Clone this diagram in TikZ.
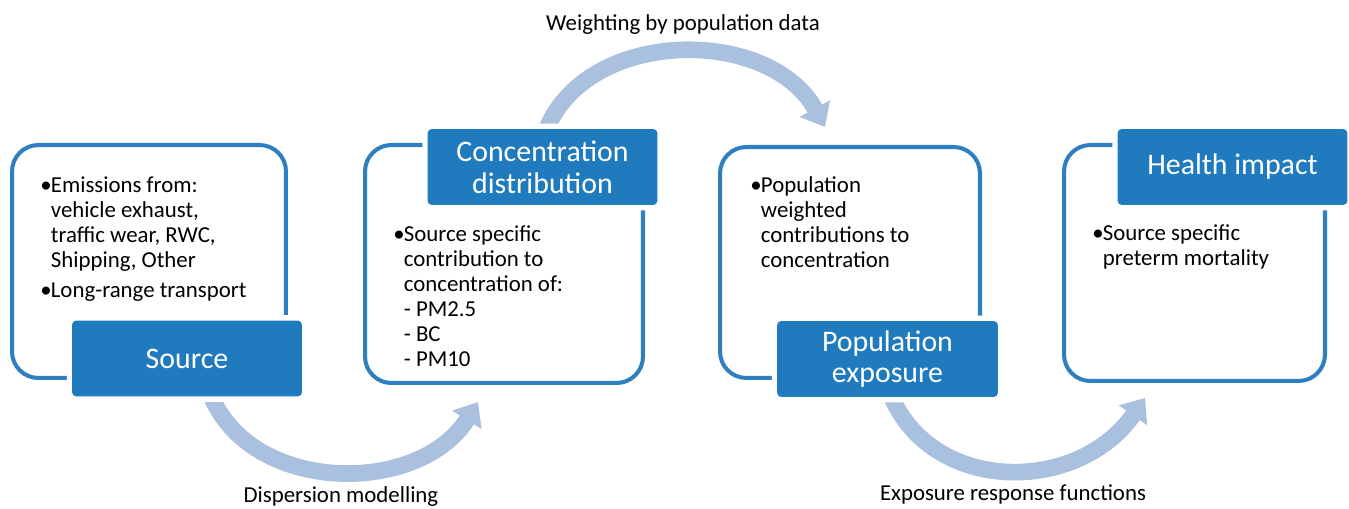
\documentclass[tikz,border=0pt]{standalone}
\usepackage{fontspec}
\setmainfont{Carlito}
\usetikzlibrary{arrows.meta}

\definecolor{boxblue}{RGB}{46,126,194}
\definecolor{titleblue}{RGB}{31,122,190}
\definecolor{flowblue}{RGB}{169,192,222}

\newcommand{\bul}{\makebox[6pt][l]{•}}
\newcommand{\ind}{\hspace*{6pt}}

\begin{document}
\begin{tikzpicture}[x=0.02cm, y=-0.02cm,
 box/.style={draw=boxblue, line width=2.3pt, rounded corners=15pt, inner sep=0pt},
 title/.style={fill=titleblue, text=white, rounded corners=2.5pt, preaction={draw=white, line width=6pt},
  minimum width=4.6cm, minimum height=1.52cm, align=center, inner sep=0pt, font=\fontsize{17}{18}\selectfont},
 body/.style={anchor=base west, align=left, inner sep=0pt, font=\fontsize{13}{14.3}\selectfont},
 flow/.style={draw=flowblue, line width=9.5pt, -{Triangle[length=12pt, width=19pt]}},
 lbl/.style={anchor=base, inner sep=0pt, font=\fontsize{13}{15}\selectfont}]

 \useasboundingbox (0,0) rectangle (1349,509);

 % curved arrows between the steps
 \coordinate (d1) at (212,398);
 \coordinate (d2) at (478,402);
 \coordinate (w1) at (547,128);
 \coordinate (w2) at (825,127);
 \coordinate (e1) at (892,398);
 \coordinate (e2) at (1145,398);
 \draw[flow] (d1) .. controls (255,495) and (420,495) .. (d2);
 \draw[flow] (w1) .. controls (590,27) and (770,27) .. (w2);
 \draw[flow] (e1) .. controls (935,494) and (1078,494) .. (e2);

 \node[lbl] (wlbl) at (683,31) {Weighting by population data};
 \node[lbl] (dlbl) at (341,503) {Dispersion modelling};
 \node[lbl] (elbl) at (1013,501) {Exposure response functions};

 % boxes
 \node[box, minimum width=5.48cm, minimum height=4.66cm] (srcbox) at (149,261.5) {};
 \node[box, minimum width=5.56cm, minimum height=4.76cm] (conbox) at (504,264) {};
 \node[box, minimum width=5.2cm, minimum height=4.62cm] (popbox) at (850,262.5) {};
 \node[box, minimum width=5.22cm, minimum height=4.72cm] (hltbox) at (1194.5,263) {};

 % base = last line
 \node[body] (srctxt) at (40,298) {\bul Emissions from:\\ \ind vehicle exhaust,\\ \ind traffic wear, RWC,\\ \ind Shipping, Other\\[3pt] \bul Long-range transport};
 \node[body] (contxt) at (393,367) {\bul Source specific\\ \ind contribution to\\ \ind concentration of:\\ \ind - PM2.5\\ \ind - BC\\ \ind - PM10};
 \node[body] (poptxt) at (750,268) {\bul Population\\ \ind weighted\\ \ind contributions to\\ \ind concentration};
 \node[body] (hlttxt) at (1092,266) {\bul Source specific\\ \ind preterm mortality};

 % titles
 \node[title] (src) at (187,358.5) {Source};
 \node[title] (con) at (542.5,167) {Concentration\\distribution};
 \node[title, minimum width=4.42cm] (pop) at (887.5,359) {Population\\exposure};
 \node[title] (hlt) at (1232.5,167) {Health impact};
\end{tikzpicture}
\end{document}
